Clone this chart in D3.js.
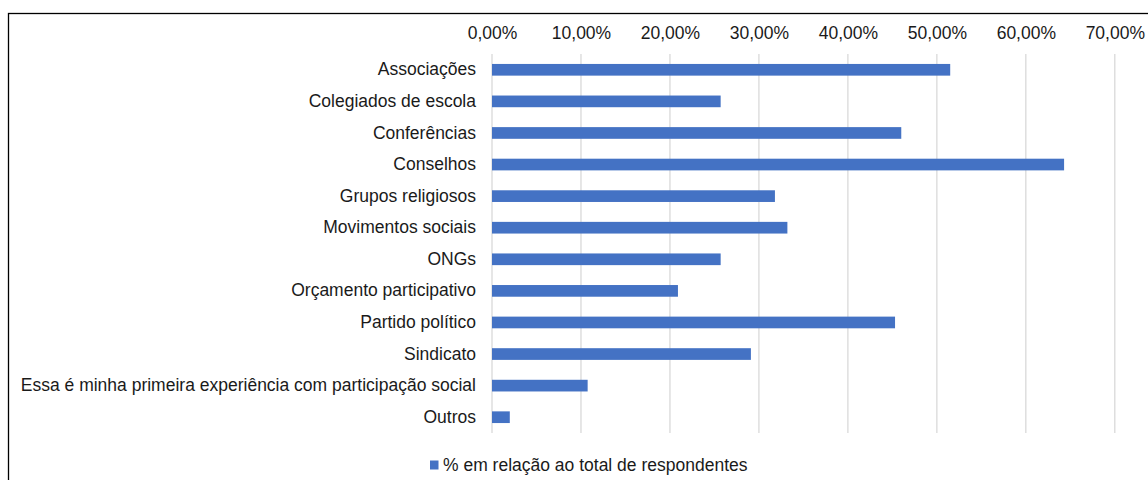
<!DOCTYPE html>
<html>
<head>
<meta charset="utf-8">
<script src="https://cdn.jsdelivr.net/npm/d3@7"></script>
<style>
  body { margin: 0; background: #fff; }
  svg { display: block; font-family: "Liberation Sans", Arial, sans-serif; }
</style>
</head>
<body>
<figure style="margin:0"></figure>
<script>
const categories = [
  'Associações',
  'Colegiados de escola',
  'Conferências',
  'Conselhos',
  'Grupos religiosos',
  'Movimentos sociais',
  'ONGs',
  'Orçamento participativo',
  'Partido político',
  'Sindicato',
  'Essa é minha primeira experiência com participação social',
  'Outros'
];
const values = [51.5, 25.7, 46.0, 64.3, 31.8, 33.2, 25.7, 20.9, 45.3, 29.1, 10.75, 2.0];
const tickValues = [0, 10, 20, 30, 40, 50, 60, 70];
const seriesName = '% em relação ao total de respondentes';

(() => {
  const totalWidth = 1148;
  const totalHeight = 480;
  const margin = {top: 54, right: 33, bottom: 47, left: 492};
  const graphHeight = totalHeight - margin.top - margin.bottom;
  const fontSize = 17.5;

  const svg = d3.select('figure').append('svg')
    .attr('width', totalWidth)
    .attr('height', totalHeight);

  // chart frame (right and bottom edges fall outside the picture)
  svg.append('rect')
    .attr('x', 8.5).attr('y', 13.5)
    .attr('width', totalWidth + 10).attr('height', totalHeight + 10)
    .attr('fill', 'none')
    .attr('stroke', '#000')
    .attr('stroke-width', 1.3);

  const g = svg.append('g')
    .attr('transform', `translate(${margin.left}, ${margin.top})`);

  const x = d3.scaleLinear()
    .domain([0, 70])
    .range([0, 622.8]);

  const y = d3.scaleBand()
    .domain(categories)
    .range([0, graphHeight])
    .paddingInner(0.63)
    .paddingOuter(0.315);

  // gridlines
  g.append('g')
    .selectAll('line')
    .data(tickValues)
    .join('line')
      .attr('x1', d => x(d)).attr('x2', d => x(d))
      .attr('y1', 0).attr('y2', graphHeight)
      .attr('stroke', '#d9d9d9')
      .attr('stroke-width', 1.3);

  const fmt = d => d.toFixed(2).replace('.', ',') + '%';
  const xAxis = d3.axisTop(x).tickValues(tickValues).tickFormat(fmt).tickSize(0).tickPadding(0);
  const xGroup = g.append('g')
    .attr('transform', 'translate(0, -21)')
    .call(xAxis);
  xGroup.select('.domain').remove();
  xGroup.selectAll('text')
    .attr('fill', '#1a1a1a')
    .attr('font-size', fontSize)
    .attr('dy', '0.35em');

  const yAxis = d3.axisLeft(y).tickSize(0).tickPadding(16);
  const yGroup = g.append('g').call(yAxis);
  yGroup.select('.domain').remove();
  yGroup.selectAll('text')
    .attr('fill', '#1a1a1a')
    .attr('font-size', fontSize);

  g.append('g')
    .selectAll('rect')
    .data(values)
    .join('rect')
      .attr('x', x(0))
      .attr('y', (d, i) => y(categories[i]))
      .attr('width', d => x(d) - x(0))
      .attr('height', y.bandwidth())
      .attr('fill', '#4472c4');

  // legend
  const legend = svg.append('g')
    .attr('transform', 'translate(430, 465)');
  legend.append('rect')
    .attr('x', 0).attr('y', -4.5)
    .attr('width', 8.5).attr('height', 9)
    .attr('fill', '#4472c4');
  legend.append('text')
    .attr('x', 13)
    .attr('dy', '0.35em')
    .attr('font-size', fontSize)
    .attr('fill', '#1a1a1a')
    .text(seriesName);
})();
</script>
</body>
</html>
